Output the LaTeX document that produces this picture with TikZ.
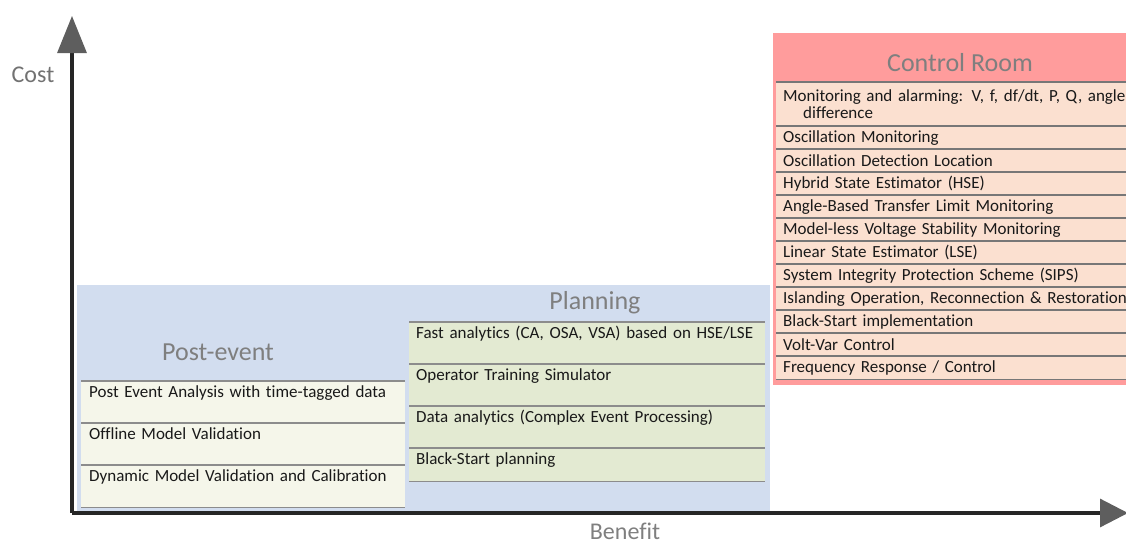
\documentclass[tikz,border=0pt]{standalone}
\usepackage{fontspec}
\setmainfont{Carlito}[Ligatures=NoCommon]
\usetikzlibrary{arrows.meta}

\definecolor{panelBlue}{HTML}{D2DDEF}
\definecolor{postRow}{HTML}{F5F6EA}
\definecolor{planRow}{HTML}{E3EAD2}
\definecolor{crHead}{HTML}{FF9C9C}
\definecolor{crRow}{HTML}{FBE0D0}
\definecolor{rowRule}{HTML}{8C8C8C}
\definecolor{titleGray}{HTML}{7F7F7F}
\definecolor{axisDark}{HTML}{262626}
\definecolor{tipGray}{HTML}{5E5E5E}

\begin{document}
\begin{tikzpicture}[x=1pt,y=-1pt,
  panel/.style={fill=panelBlue, draw=none, anchor=north west, inner sep=0pt},
  title/.style={text=titleGray, font=\fontsize{26}{30}\selectfont, inner sep=0pt},
  rowtext/.style={font=\fontsize{17}{18}\selectfont, text=black!90, align=left},
  toprow/.style={rowtext, draw=none, anchor=north west, inner ysep=0pt,
    text height=16pt, minimum height=#1, text depth=#1-16pt},
  postrow/.style={toprow=#1, fill=postRow, minimum width=324pt,
    text width=308pt, inner xsep=8pt},
  planrow/.style={toprow=#1, fill=planRow, minimum width=356pt,
    text width=342pt, inner xsep=7pt},
  crrow/.style={rowtext, fill=crRow, draw=none, anchor=north west,
    inner ysep=0pt, inner xsep=7pt, text width=380pt,
    minimum height=#1},
  rule/.style={draw=rowRule, line width=1.4pt},
  axis/.style={draw=axisDark, line width=3.2pt}
]
\useasboundingbox (0,0) rectangle (1126,544);
\clip (0,0) rectangle (1126,544);

% background panels
\node[panel, minimum width=328pt, minimum height=228pt] (postbg) at (77,285) {};
\node[panel, minimum width=365pt, minimum height=228pt] (planbg) at (405,285) {};

% post-event rows
\node[title] (posttitle) at (218,352) {Post-event};
\node[postrow=42pt] (pe1) at (81,381) {Post Event Analysis with time-tagged data};
\node[postrow=42pt] (pe2) at (81,423) {Offline Model Validation};
\node[postrow=42pt] (pe3) at (81,465) {Dynamic Model Validation and Calibration};
\foreach \r in {pe1,pe2,pe3}{
  \draw[rule] (\r.north west) -- (\r.north east);
  \draw[rule] (\r.south west) -- (\r.south east);
}

% planning rows
\node[title] (plantitle) at (595,303) {Planning};
\node[planrow=42pt] (pl1) at (409,322) {Fast analytics (CA, OSA, VSA) based on HSE/LSE};
\node[planrow=42pt] (pl2) at (409,364) {Operator Training Simulator};
\node[planrow=42pt] (pl3) at (409,406) {Data analytics (Complex Event Processing)};
\node[planrow=33pt] (pl4) at (409,448) {Black-Start planning};
\foreach \r in {pl1,pl2,pl3,pl4}{
  \draw[rule] (\r.north west) -- (\r.north east);
  \draw[rule] (\r.south west) -- (\r.south east);
}

% control room (runs on past the right edge)
\node[panel, fill=crHead, minimum width=400pt, minimum height=352pt] (crbg) at (773,33) {};
\node[title] (crtitle) at (960,63) {Control Room};
\node[crrow=44pt] (cr0) at (776,82)
  {Monitoring and alarming: V, f, df/dt, P, Q, angle\\[-1pt]\hspace*{20pt}difference};
\foreach \t [count=\i] in {Oscillation Monitoring,
    Oscillation Detection Location,
    Hybrid State Estimator (HSE),
    Angle-Based Transfer Limit Monitoring,
    Model-less Voltage Stability Monitoring,
    Linear State Estimator (LSE),
    System Integrity Protection Scheme (SIPS),
    {Islanding Operation, Reconnection \& Restoration},
    Black-Start implementation,
    Volt-Var Control,
    Frequency Response / Control}{
  \node[crrow=23pt] (cr\i) at (776,{126+23*(\i-1)}) {\t};
}
\foreach \i in {0,...,11}{
  \draw[rule, draw=rowRule!85!black] (cr\i.north west) -- (cr\i.north east);
}
\draw[rule, draw=rowRule!85!black] (cr11.south west) -- (cr11.south east);

% axes
\coordinate (origin) at (72,513);
\coordinate (ytip) at (72,16);
\coordinate (xtip) at (1128,513);
\draw[axis, -{Triangle[length=37pt,width=29pt,color=tipGray]}] (origin) -- (ytip);
\draw[axis, -{Triangle[length=28pt,width=28pt,color=tipGray]}] (origin) -- (xtip);
\node[title, text=titleGray!90!black, font=\fontsize{24}{28}\selectfont] (ylabel) at (33,75) {Cost};
\node[title, anchor=base, font=\fontsize{24}{28}\selectfont] (xlabel) at (625,539) {Benefit};
\end{tikzpicture}
\end{document}
